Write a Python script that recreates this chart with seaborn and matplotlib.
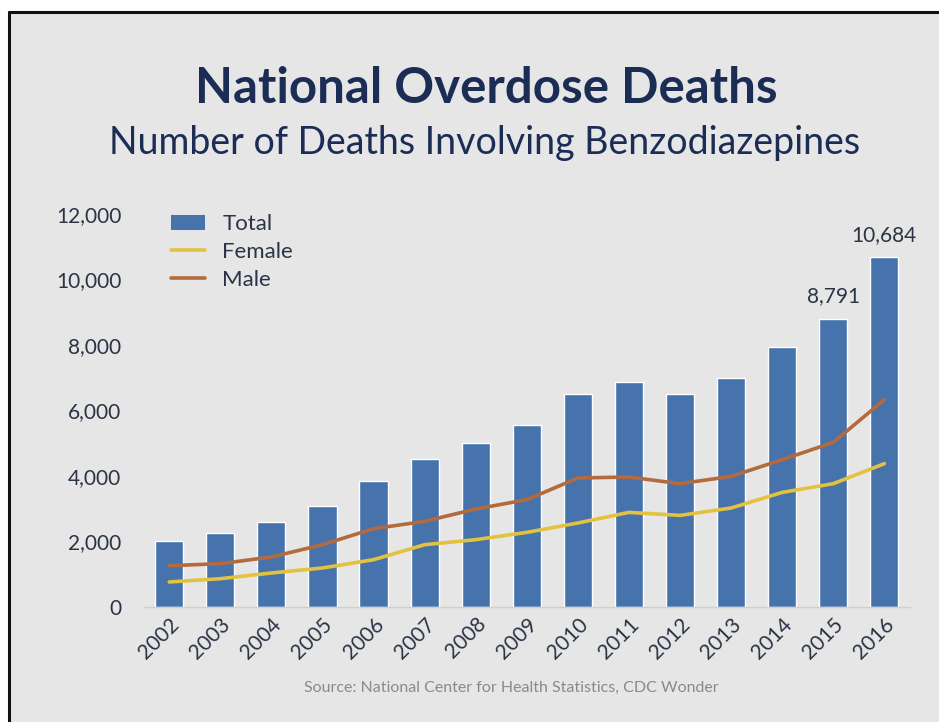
import numpy as np
import pandas as pd
import matplotlib
matplotlib.use("Agg")
import matplotlib.pyplot as plt
import seaborn as sns
from matplotlib.lines import Line2D
from matplotlib.patches import Patch, Rectangle
from matplotlib.ticker import FuncFormatter

# ---------------------------------------------------------------------------
# Data
# ---------------------------------------------------------------------------
years = ["2002", "2003", "2004", "2005", "2006", "2007", "2008", "2009",
         "2010", "2011", "2012", "2013", "2014", "2015", "2016"]
total = [2003, 2260, 2595, 3084, 3835, 4519, 5017, 5557,
         6513, 6858, 6513, 6992, 7948, 8791, 10684]
female = [763, 864, 1038, 1191, 1444, 1902, 2055, 2278,
          2565, 2889, 2797, 3023, 3499, 3765, 4376]
male = [1261, 1322, 1527, 1902, 2391, 2614, 2992, 3276,
        3939, 3969, 3765, 3988, 4498, 5026, 6330]
labelled_years = ["2015", "2016"]

df = pd.DataFrame({"year": years, "Total": total, "Female": female, "Male": male})

# ---------------------------------------------------------------------------
# Style
# ---------------------------------------------------------------------------
BG = "#e6e6e6"
NAVY = "#1c2d55"
TEXT = "#2b3445"
BAR = "#4673ab"
FEMALE_C = "#e3c23f"
MALE_C = "#b36a3c"

sns.set_theme(style="white")
plt.rcParams["font.family"] = ["Lato", "DejaVu Sans"]

fig = plt.figure(figsize=(9.39, 7.22), dpi=100)
fig.patch.set_facecolor("white")
# slide background with dark frame on top/left edges
fig.patches.append(Rectangle((9 / 939, 0), 1, 1 - 12 / 722, transform=fig.transFigure,
                             facecolor=BG, edgecolor="none", zorder=-2))
fig.add_artist(Line2D([9 / 939, 9 / 939], [0, 1 - 12 / 722], transform=fig.transFigure,
                      color="#111111", lw=2.2))
fig.add_artist(Line2D([9 / 939, 1], [1 - 12 / 722, 1 - 12 / 722], transform=fig.transFigure,
                      color="#111111", lw=2.2))

ax = fig.add_axes([0.153, 0.1593, 0.816, 0.5443])
ax.set_facecolor(BG)

sns.barplot(data=df, x="year", y="Total", color=BAR, width=0.55,
            saturation=1, ax=ax, zorder=2)
sns.lineplot(data=df, x="year", y="Female", color=FEMALE_C, lw=2.6,
             ax=ax, zorder=3)
sns.lineplot(data=df, x="year", y="Male", color=MALE_C, lw=2.6,
             ax=ax, zorder=4)

ax.set_xlim(-0.5, len(years) - 0.5)
ax.set_ylim(0, 12000)
ax.set_yticks(np.arange(0, 12001, 2000))
ax.yaxis.set_major_formatter(FuncFormatter(lambda v, _: f"{v:,.0f}"))
ax.set_xlabel("")
ax.set_ylabel("")

for s in ["top", "right", "left"]:
    ax.spines[s].set_visible(False)
ax.spines["bottom"].set_color("#cfcfcf")
ax.spines["bottom"].set_linewidth(1.0)

ax.tick_params(axis="y", length=0, pad=16, labelsize=15, labelcolor=TEXT)
ax.tick_params(axis="x", length=0, pad=5, labelsize=15, labelcolor=TEXT)
plt.setp(ax.get_xticklabels(), rotation=45, ha="right", rotation_mode="anchor")

# value labels on the last two bars
for i, yr in enumerate(years):
    if yr in labelled_years:
        ax.annotate(f"{total[i]:,}", (i, total[i]), xytext=(0, 9),
                    textcoords="offset points", ha="center", va="bottom",
                    fontsize=15, color=TEXT, clip_on=False)

handles = [Patch(facecolor=BAR, edgecolor="none"),
           Line2D([], [], color=FEMALE_C, lw=2.6),
           Line2D([], [], color=MALE_C, lw=2.6)]
ax.legend(handles, ["Total", "Female", "Male"], loc="upper left",
          bbox_to_anchor=(0.01, 1.05), frameon=False, fontsize=16,
          handlelength=1.5, handletextpad=0.8, labelspacing=0.35,
          labelcolor=TEXT)

# titles and source
fig.text(0.518, 0.878, "National Overdose Deaths", ha="center", va="center",
         fontsize=35.5, fontweight="bold", color=NAVY)
fig.text(0.516, 0.802, "Number of Deaths Involving Benzodiazepines", ha="center",
         va="center", fontsize=27, color=NAVY)
fig.text(0.545, 0.047, "Source: National Center for Health Statistics, CDC Wonder",
         ha="center", va="center", fontsize=11.5, color="#8a8a8a")

fig.savefig("out.png", dpi=100, facecolor=fig.get_facecolor())
